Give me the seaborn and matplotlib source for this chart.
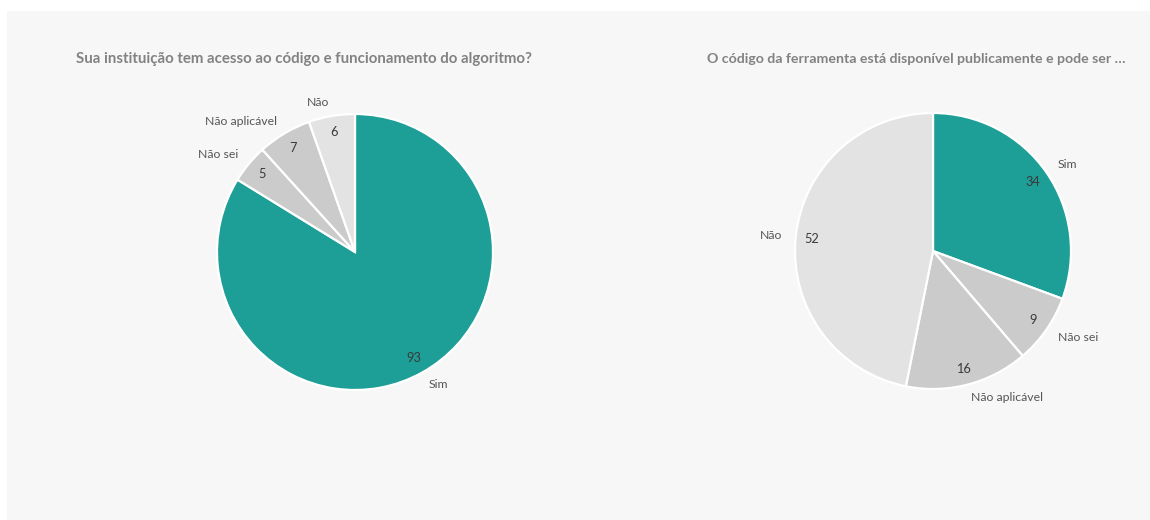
import matplotlib
matplotlib.use("Agg")
import matplotlib.pyplot as plt
from matplotlib.patches import Rectangle
import seaborn as sns

# Survey answers, listed clockwise from 12 o'clock
left_title = "Sua instituição tem acesso ao código e funcionamento do algoritmo?"
left_labels = ["Sim", "Não sei", "Não aplicável", "Não"]
left_values = [93, 5, 7, 6]

right_title = "O código da ferramenta está disponível publicamente e pode ser …"
right_labels = ["Sim", "Não sei", "Não aplicável", "Não"]
right_values = [34, 9, 16, 52]

sns.set_theme(style="white")
plt.rcParams["font.family"] = ["Lato", "DejaVu Sans"]

teal = "#1d9e97"
mid_gray = "#cbcbcb"
light_gray = "#e3e3e3"
palette = sns.color_palette([teal, mid_gray, mid_gray, light_gray])

W, H = 1150, 520
fig = plt.figure(figsize=(W / 100, H / 100), dpi=100, facecolor="white")

# light panel behind both charts
fig.patches.append(Rectangle((7 / W, 0), (W - 7) / W, (H - 11) / H,
                             transform=fig.transFigure, facecolor="#f7f7f7",
                             edgecolor="none", zorder=-5))


def draw_pie(cx, cy, r, labels, values, title, title_x, title_size):
    ax = fig.add_axes([(cx - r) / W, (H - cy - r) / H, 2 * r / W, 2 * r / H])
    ax.set_facecolor("none")
    wedges, texts, autotexts = ax.pie(
        values, labels=labels, colors=palette, startangle=90, counterclock=False,
        labeldistance=1.1, pctdistance=0.88,
        autopct=lambda p: f"{round(p * sum(values) / 100):d}",
        wedgeprops=dict(edgecolor="white", linewidth=1.6),
        textprops=dict(fontsize=8.8, color="#555555"),
    )
    for t in autotexts:
        t.set_color("#3a3a3a")
        t.set_fontsize(9.2)
    ax.set_xlim(-1, 1)
    ax.set_ylim(-1, 1)
    ax.set_aspect("equal")
    ax.axis("off")
    fig.text(title_x / W, 1 - 59 / H, title, ha="center", va="center",
             fontsize=title_size, fontweight="bold", color="#828282")


draw_pie(355, 252, 138, left_labels, left_values, left_title, 304, 10.8)
draw_pie(933, 251, 138, right_labels, right_values, right_title, 916, 10.2)

fig.savefig("out.png", dpi=100, facecolor="white")
